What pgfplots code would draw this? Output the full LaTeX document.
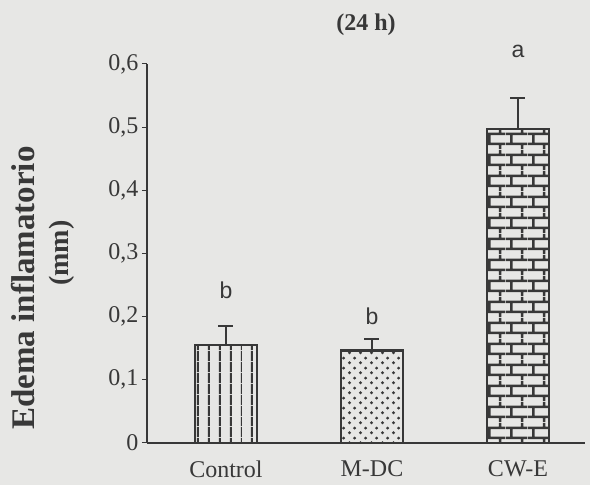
\documentclass[border=0pt]{standalone}
\usepackage{fontspec}
\setmainfont{Liberation Serif}
\newfontfamily\sansf{Liberation Sans}
\usepackage{xcolor}
\usepackage{pgfplots}
\pgfplotsset{compat=1.18}
\usetikzlibrary{patterns,patterns.meta}
\definecolor{bg}{HTML}{E7E7E5}
\definecolor{ink}{HTML}{383838}
\pagecolor{bg}

\pgfdeclarepatternformonly{mydots}{\pgfpointorigin}{\pgfpoint{10.5pt}{10pt}}{\pgfpoint{10.5pt}{10pt}}{%
 \pgfpathcircle{\pgfpoint{2.6pt}{2.5pt}}{1.7pt}%
 \pgfpathcircle{\pgfpoint{7.85pt}{7.5pt}}{1.7pt}%
 \pgfusepath{fill}%
}
\pgfdeclarepatternformonly{mybricks}{\pgfpointorigin}{\pgfpoint{22pt}{21pt}}{\pgfpoint{22pt}{21pt}}{%
 \pgfsetlinewidth{2.6pt}%
 \pgfpathmoveto{\pgfpoint{0pt}{5.25pt}}\pgfpathlineto{\pgfpoint{22pt}{5.25pt}}%
 \pgfpathmoveto{\pgfpoint{0pt}{15.75pt}}\pgfpathlineto{\pgfpoint{22pt}{15.75pt}}%
 \pgfpathmoveto{\pgfpoint{5.5pt}{5.25pt}}\pgfpathlineto{\pgfpoint{5.5pt}{15.75pt}}%
 \pgfpathmoveto{\pgfpoint{16.5pt}{15.75pt}}\pgfpathlineto{\pgfpoint{16.5pt}{21pt}}%
 \pgfpathmoveto{\pgfpoint{16.5pt}{0pt}}\pgfpathlineto{\pgfpoint{16.5pt}{5.25pt}}%
 \pgfusepath{stroke}%
}

\begin{document}
\begin{tikzpicture}
\begin{axis}[
  at={(0,0)}, anchor=south west,
  scale only axis, width=438pt, height=379pt,
  xmin=-0.541, xmax=2.459, ymin=0, ymax=0.6,
  axis x line=bottom, axis y line=left,
  axis line style={-, ink, line width=1.2pt},
  xtick={0,1,2}, xticklabels={Control,M-DC,CW-E},
  x tick style={draw=none},
  ytick={0,0.1,0.2,0.3,0.4,0.5,0.6},
  tick align=outside, major tick length=5pt,
  y tick style={ink, line width=1pt},
  yticklabel style={/pgf/number format/.cd, fixed, precision=1, use comma, assume math mode=true},
  ticklabel style={font=\fontsize{24}{28}\selectfont, text=ink},
  xticklabel style={yshift=-9pt},
  clip=false,
  error bars/error mark options={rotate=90, line width=2pt, mark size=7.5pt, ink},
]
\addplot[ybar, bar width=62pt, bar shift=0pt, draw=ink, line width=2.8pt,
  pattern={Lines[angle=90,distance=10.5pt,line width=2.2pt]}, pattern color=ink,
  error bars/.cd, y dir=plus, y explicit,
  error bar style={line width=2pt, ink}]
  coordinates {(0,0.155) +- (0,0.030)};
\addplot[ybar, bar width=62pt, bar shift=0pt, draw=ink, line width=2.8pt,
  pattern=mydots, pattern color=ink,
  error bars/.cd, y dir=plus, y explicit,
  error bar style={line width=2pt, ink}]
  coordinates {(1,0.146) +- (0,0.019)};
\addplot[ybar, bar width=62pt, bar shift=0pt, draw=ink, line width=2.8pt,
  pattern=mybricks, pattern color=ink,
  error bars/.cd, y dir=plus, y explicit,
  error bar style={line width=2pt, ink}]
  coordinates {(2,0.497) +- (0,0.049)};
\node[font=\sansf\fontsize{23}{26}\selectfont, text=ink, anchor=base] at (axis cs:0,0.229) {b};
\node[font=\sansf\fontsize{23}{26}\selectfont, text=ink, anchor=base] at (axis cs:1,0.187) {b};
\node[font=\sansf\fontsize{23}{26}\selectfont, text=ink, anchor=base] at (axis cs:2,0.611) {a};
\node[rotate=90, font=\bfseries\fontsize{33}{38}\selectfont, text=ink] at (rel axis cs:-0.2831,0.409) {Edema inflamatorio};
\node[rotate=90, font=\bfseries\fontsize{28}{32}\selectfont, text=ink] at (rel axis cs:-0.194,0.501) {(mm)};
\node[font=\bfseries\fontsize{24}{28}\selectfont, text=ink] at (rel axis cs:0.5,1.103) {(24 h)};
\end{axis}
\pgfresetboundingbox
\path[use as bounding box] ([xshift=-147pt,yshift=-42pt]current axis.south west) rectangle ([xshift=5pt,yshift=64pt]current axis.north east);
\end{tikzpicture}
\end{document}
